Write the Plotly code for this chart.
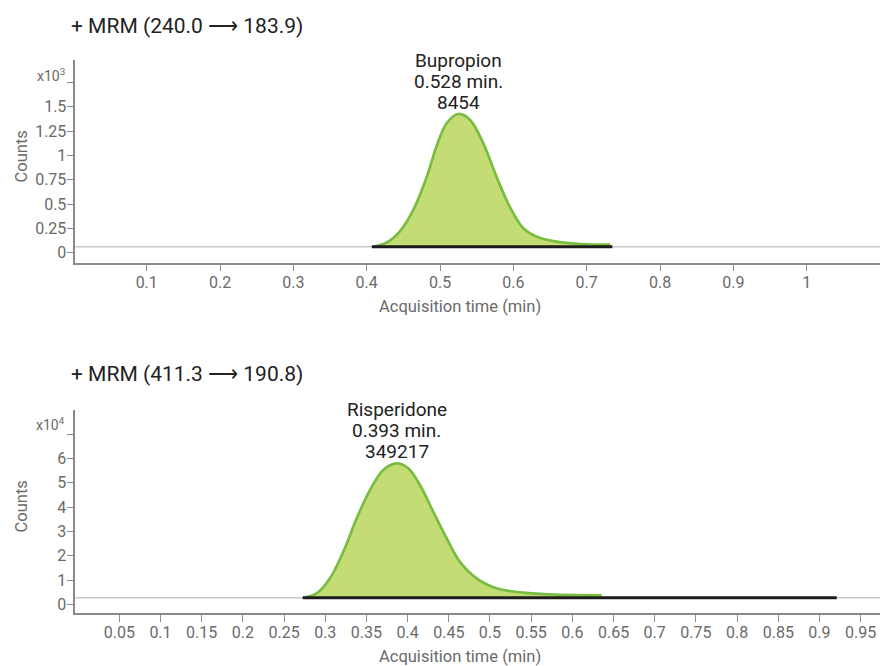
import plotly.graph_objects as go

W, H = 880, 666
FONT = "Roboto, sans-serif"

# ---------------- data ----------------
# Panel 1: + MRM (240.0 -> 183.9), counts in units of 10^3
bup_time = [0.409, 0.427, 0.445, 0.4635, 0.482, 0.495, 0.509, 0.525, 0.541,
            0.559, 0.577, 0.595, 0.6135, 0.632, 0.659, 0.691, 0.732]
bup_counts = [0.062, 0.103, 0.216, 0.439, 0.781, 1.089, 1.33, 1.425, 1.364,
              1.124, 0.781, 0.473, 0.251, 0.164, 0.113, 0.089, 0.082]
bup_baseline = 0.06
bup_integration = [0.407, 0.735]
bup_label = ["Bupropion", "0.528 min.", "8454"]

# Panel 2: + MRM (411.3 -> 190.8), counts in units of 10^4
ris_time = [0.2734, 0.2896, 0.3058, 0.3219, 0.3382, 0.3543, 0.3705, 0.3867,
            0.4008, 0.415, 0.4312, 0.4474, 0.4636, 0.4838, 0.5081, 0.5404,
            0.581, 0.6356]
ris_counts = [0.272, 0.45, 1.07, 2.16, 3.54, 4.70, 5.53, 5.80, 5.60, 4.91,
              3.81, 2.72, 1.75, 1.07, 0.66, 0.48, 0.40, 0.37]
ris_baseline = 0.272
ris_integration = [0.2726, 0.921]
ris_label = ["Risperidone", "0.393 min.", "349217"]

titles = ["+ MRM (240.0 \u27f6 183.9)", "+ MRM (411.3 \u27f6 190.8)"]
x_title = "Acquisition time (min)"
y_title = "Counts"
y_mult = ["x10<sup>3</sup>", "x10<sup>4</sup>"]

top_xticks = [0.1, 0.2, 0.3, 0.4, 0.5, 0.6, 0.7, 0.8, 0.9, 1.0]
top_xlabels = ["0.1", "0.2", "0.3", "0.4", "0.5", "0.6", "0.7", "0.8", "0.9", "1"]
top_xminor = [1.1]
top_yticks = [0, 0.25, 0.5, 0.75, 1.0, 1.25, 1.5]
top_ylabels = ["0", "0.25", "0.5", "0.75", "1", "1.25", "1.5"]
top_yminor = [1.75]
bot_xticks = [0.05, 0.1, 0.15, 0.2, 0.25, 0.3, 0.35, 0.4, 0.45, 0.5, 0.55,
              0.6, 0.65, 0.7, 0.75, 0.8, 0.85, 0.9, 0.95]
bot_xlabels = ["0.05", "0.1", "0.15", "0.2", "0.25", "0.3", "0.35", "0.4", "0.45",
               "0.5", "0.55", "0.6", "0.65", "0.7", "0.75", "0.8", "0.85", "0.9", "0.95"]
bot_yticks = [0, 1, 2, 3, 4, 5, 6]
bot_ylabels = ["0", "1", "2", "3", "4", "5", "6"]
bot_yminor = [7]

# ---------------- style ----------------
FILL = "#c4dc74"
LINE = "#78bd41"
AXIS = "#8a8a8a"
TICKTXT = "#6a6a6a"
DARK = "#222222"

fig = go.Figure()

def add_peak(t, c, base, integ, xa, ya):
    fig.add_trace(go.Scatter(x=[t[0], t[-1]], y=[base, base], mode="lines",
                             line=dict(width=0, color="rgba(0,0,0,0)"),
                             xaxis=xa, yaxis=ya, hoverinfo="skip", showlegend=False))
    fig.add_trace(go.Scatter(x=t, y=c, mode="lines", fill="tonexty", fillcolor=FILL,
                             line=dict(color=LINE, width=2.7, shape="spline", smoothing=1.0),
                             xaxis=xa, yaxis=ya, showlegend=False))
    fig.add_trace(go.Scatter(x=integ, y=[base, base], mode="lines",
                             line=dict(color="#1c1c1c", width=3),
                             xaxis=xa, yaxis=ya, showlegend=False))

add_peak(bup_time, bup_counts, bup_baseline, bup_integration, "x", "y")
add_peak(ris_time, ris_counts, ris_baseline, ris_integration, "x2", "y2")

for xr, yr, b in [("x domain", "y", bup_baseline), ("x2 domain", "y2", ris_baseline)]:
    fig.add_shape(type="line", xref=xr, yref=yr, x0=0, x1=1, y0=b, y1=b,
                  line=dict(color="#c8c8c8", width=1.5), layer="below")

xdom = [75.3 / W, 1.0]
top_dom = [1 - 262.7 / H, 1 - 60 / H]
bot_dom = [1 - 613.3 / H, 1 - 410 / H]

axis_common = dict(showline=True, linecolor=AXIS, linewidth=1.5, ticks="outside",
                   ticklen=7, tickwidth=1, tickcolor=AXIS, showgrid=False, zeroline=False,
                   tickfont=dict(family=FONT, size=16, color=TICKTXT), tickmode="array")

def minor(vals):
    return dict(tickmode="array", tickvals=vals, ticks="outside", ticklen=7,
                tickwidth=1, tickcolor=AXIS, showgrid=False)

fig.update_layout(
    width=W, height=H, autosize=False,
    margin=dict(l=0, r=0, t=0, b=0, pad=0),
    paper_bgcolor="white", plot_bgcolor="white",
    showlegend=False,
    xaxis=dict(domain=xdom, anchor="y", range=[0.0026, 1.1], ticklabelstandoff=-3,
               tickvals=top_xticks, ticktext=top_xlabels, minor=minor(top_xminor), **axis_common),
    yaxis=dict(domain=top_dom, anchor="x", range=[-0.103, 1.98], ticklabelstandoff=-3,
               tickvals=top_yticks, ticktext=top_ylabels, minor=minor(top_yminor), **axis_common),
    xaxis2=dict(domain=xdom, anchor="y2", range=[-0.0034, 0.9735], ticklabelstandoff=-3,
                tickvals=bot_xticks, ticktext=bot_xlabels, **axis_common),
    yaxis2=dict(domain=bot_dom, anchor="x2", range=[-0.37, 8.0], ticklabelstandoff=-3,
                tickvals=bot_yticks, ticktext=bot_ylabels, minor=minor(bot_yminor), **axis_common),
)

ann = []
for txt, ypx in zip(titles, [26, 374]):
    ann.append(dict(text=txt, xref="paper", yref="paper", x=69 / W, y=1 - ypx / H,
                    xanchor="left", yanchor="middle", showarrow=False,
                    font=dict(family=FONT, size=21, color=DARK)))
for ypx in [306.7, 656.7]:
    ann.append(dict(text=x_title, xref="paper", yref="paper", x=460 / W, y=1 - ypx / H,
                    xanchor="center", yanchor="middle", showarrow=False,
                    font=dict(family=FONT, size=16.5, color=TICKTXT)))
for ypx in [156.7, 506.7]:
    ann.append(dict(text=y_title, xref="paper", yref="paper", x=21.7 / W, y=1 - ypx / H,
                    xanchor="center", yanchor="middle", textangle=-90, showarrow=False,
                    font=dict(family=FONT, size=16.5, color=TICKTXT)))
for txt, ypx in zip(y_mult, [74.7, 424]):
    ann.append(dict(text=txt, xref="paper", yref="paper", x=67 / W, y=1 - ypx / H,
                    xanchor="right", yanchor="middle", showarrow=False,
                    font=dict(family=FONT, size=14, color=TICKTXT)))
for t, c, lab, xr, yr in [(bup_time, bup_counts, bup_label, "x", "y"),
                          (ris_time, ris_counts, ris_label, "x2", "y2")]:
    i = c.index(max(c))
    for line, shift in zip(lab, [54, 33, 12]):
        ann.append(dict(text=line, xref=xr, yref=yr, x=t[i], y=c[i], yshift=shift,
                        xanchor="center", yanchor="middle", showarrow=False,
                        font=dict(family=FONT, size=19, color=DARK)))
fig.update_layout(annotations=ann)

fig.write_html("out.html", config={"displayModeBar": False},
               post_script="document.body.style.margin='0';document.body.style.overflow='hidden';")
